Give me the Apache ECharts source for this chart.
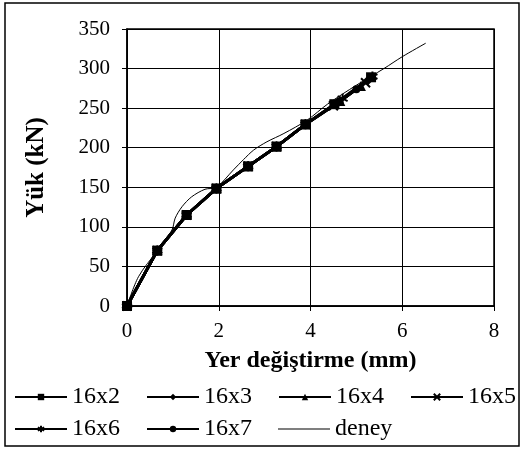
<!DOCTYPE html>
<html><head><meta charset="utf-8">
<script src="https://cdn.jsdelivr.net/npm/echarts@6/dist/echarts.min.js"></script>
<style>html,body{margin:0;padding:0;background:#fff}#c{width:522px;height:450px}</style>
</head><body><div id="c"></div>
<script>
const xTicks = [0, 2, 4, 6, 8];
const yTicks = [0, 50, 100, 150, 200, 250, 300, 350];
const seriesNames = ['16x2', '16x3', '16x4', '16x5', '16x6', '16x7', 'deney'];
const s16x2 = [[0,0],[0.66,70],[1.3,115],[1.95,148.5],[2.64,176.5],[3.26,201.5],[3.89,229.5],[4.52,255],[5.32,289]];
const s16x3 = [[0,0],[0.66,70],[1.3,115],[1.95,148.5],[2.64,176.5],[3.26,201.5],[3.89,229.5],[4.6,257],[5.25,285]];
const s16x4 = [[0,0],[0.66,70],[1.3,115],[1.95,148.5],[2.64,176.5],[3.26,201.5],[3.89,229.5],[4.65,259],[5.1,278]];
const s16x5 = [[0,0],[0.66,70],[1.3,115],[1.95,148.5],[2.64,176.5],[3.26,201.5],[3.89,229.5],[4.5,253],[5.2,282]];
const s16x6 = [[0,0],[0.66,70],[1.3,115],[1.95,148.5],[2.64,176.5],[3.26,201.5],[3.89,229.5],[4.7,262],[5.35,290]];
const s16x7 = [[0,0],[0.66,70],[1.3,115],[1.95,148.5],[2.64,176.5],[3.26,201.5],[3.89,229.5],[4.62,258],[5.0,274]];
const deney = [[0,0],[0.25,37],[0.66,70],[0.98,96],[1.05,111],[1.2,125.5],[1.41,138],[1.7,147.5],[1.95,150],[2.32,172],[2.54,185],[2.76,197],[3.05,207.5],[3.42,218],[3.93,235],[4.37,255],[5.0,279],[5.6,300],[6.0,315],[6.51,332]];

const FONT = '"Liberation Serif", "Times New Roman", serif';
const symbols = ['rect', 'diamond', 'triangle',
  'path://M0,0L10,10M10,0L0,10',
  'path://M5,0L5,10M0,2.5L10,7.5M0,7.5L10,2.5',
  'circle'];
const symbolSizes = [10, 10, 10, 9, 10, 8];
const dataSets = [s16x2, s16x3, s16x4, s16x5, s16x6, s16x7];

const series = dataSets.map((d, i) => ({
  name: seriesNames[i], type: 'line', data: d,
  symbol: symbols[i], symbolSize: symbolSizes[i],
  lineStyle: { color: '#000', width: 2.8 },
  itemStyle: { color: '#000', borderColor: '#000', borderWidth: (i === 3 || i === 4) ? 2 : 0 },
  z: 3, animation: false
}));
series.push({
  name: 'deney', type: 'line', data: deney, symbol: 'none', smooth: 0.3,
  lineStyle: { color: '#000', width: 1 }, itemStyle: { color: '#000' }, z: 4, animation: false
});

const thinLineIcon = 'path://M0,0L0.01,0L0,0.01Z M0,3.6L52,3.6L52,4.4L0,4.4Z M0,8L0.01,8L0,7.99Z';
const legendData = seriesNames.map(n => n === 'deney' ? { name: n, icon: thinLineIcon } : { name: n });

const chart = echarts.init(document.getElementById('c'), null, { renderer: 'canvas' });
chart.setOption({
  backgroundColor: '#fff',
  animation: false,
  graphic: [{
    type: 'rect', shape: { x: 5, y: 3, width: 514, height: 443 },
    style: { fill: 'none', stroke: '#000', lineWidth: 1.5 }, z: 0, silent: true
  }],
  grid: { left: 127, right: 28, top: 29, bottom: 144, show: true, borderColor: '#000', borderWidth: 1.5, backgroundColor: 'transparent' },
  xAxis: {
    type: 'value', min: 0, max: 8, interval: 2,
    name: 'Yer değiştirme (mm)', nameLocation: 'middle', nameGap: 43,
    nameTextStyle: { fontFamily: FONT, fontWeight: 'bold', fontSize: 24, color: '#000' },
    axisLine: { show: true, lineStyle: { color: '#000', width: 1.5 } },
    axisTick: { show: true, length: 5, lineStyle: { color: '#000' } },
    axisLabel: { fontFamily: FONT, fontSize: 21, color: '#000', margin: 15,
      formatter: v => xTicks.includes(v) ? String(v) : '' },
    splitLine: { show: true, lineStyle: { color: '#000', width: 1 } }
  },
  yAxis: {
    type: 'value', min: 0, max: 350, interval: 50,
    name: 'Yük (kN)', nameLocation: 'middle', nameGap: 78,
    nameTextStyle: { fontFamily: FONT, fontWeight: 'bold', fontSize: 25, color: '#000' },
    axisLine: { show: true, lineStyle: { color: '#000', width: 1.5 } },
    axisTick: { show: true, length: 5, lineStyle: { color: '#000' } },
    axisLabel: { fontFamily: FONT, fontSize: 21, color: '#000', margin: 17,
      formatter: v => yTicks.includes(v) ? String(v) : '' },
    splitLine: { show: true, lineStyle: { color: '#000', width: 1 } }
  },
  legend: {
    data: legendData, left: 14, top: 385, width: 520, itemWidth: 52, itemHeight: 8, itemGap: 8,
    textStyle: { fontFamily: FONT, fontSize: 24, color: '#000', width: 66, lineHeight: 22 },
    padding: 0
  },
  series: series
});
</script></body></html>
